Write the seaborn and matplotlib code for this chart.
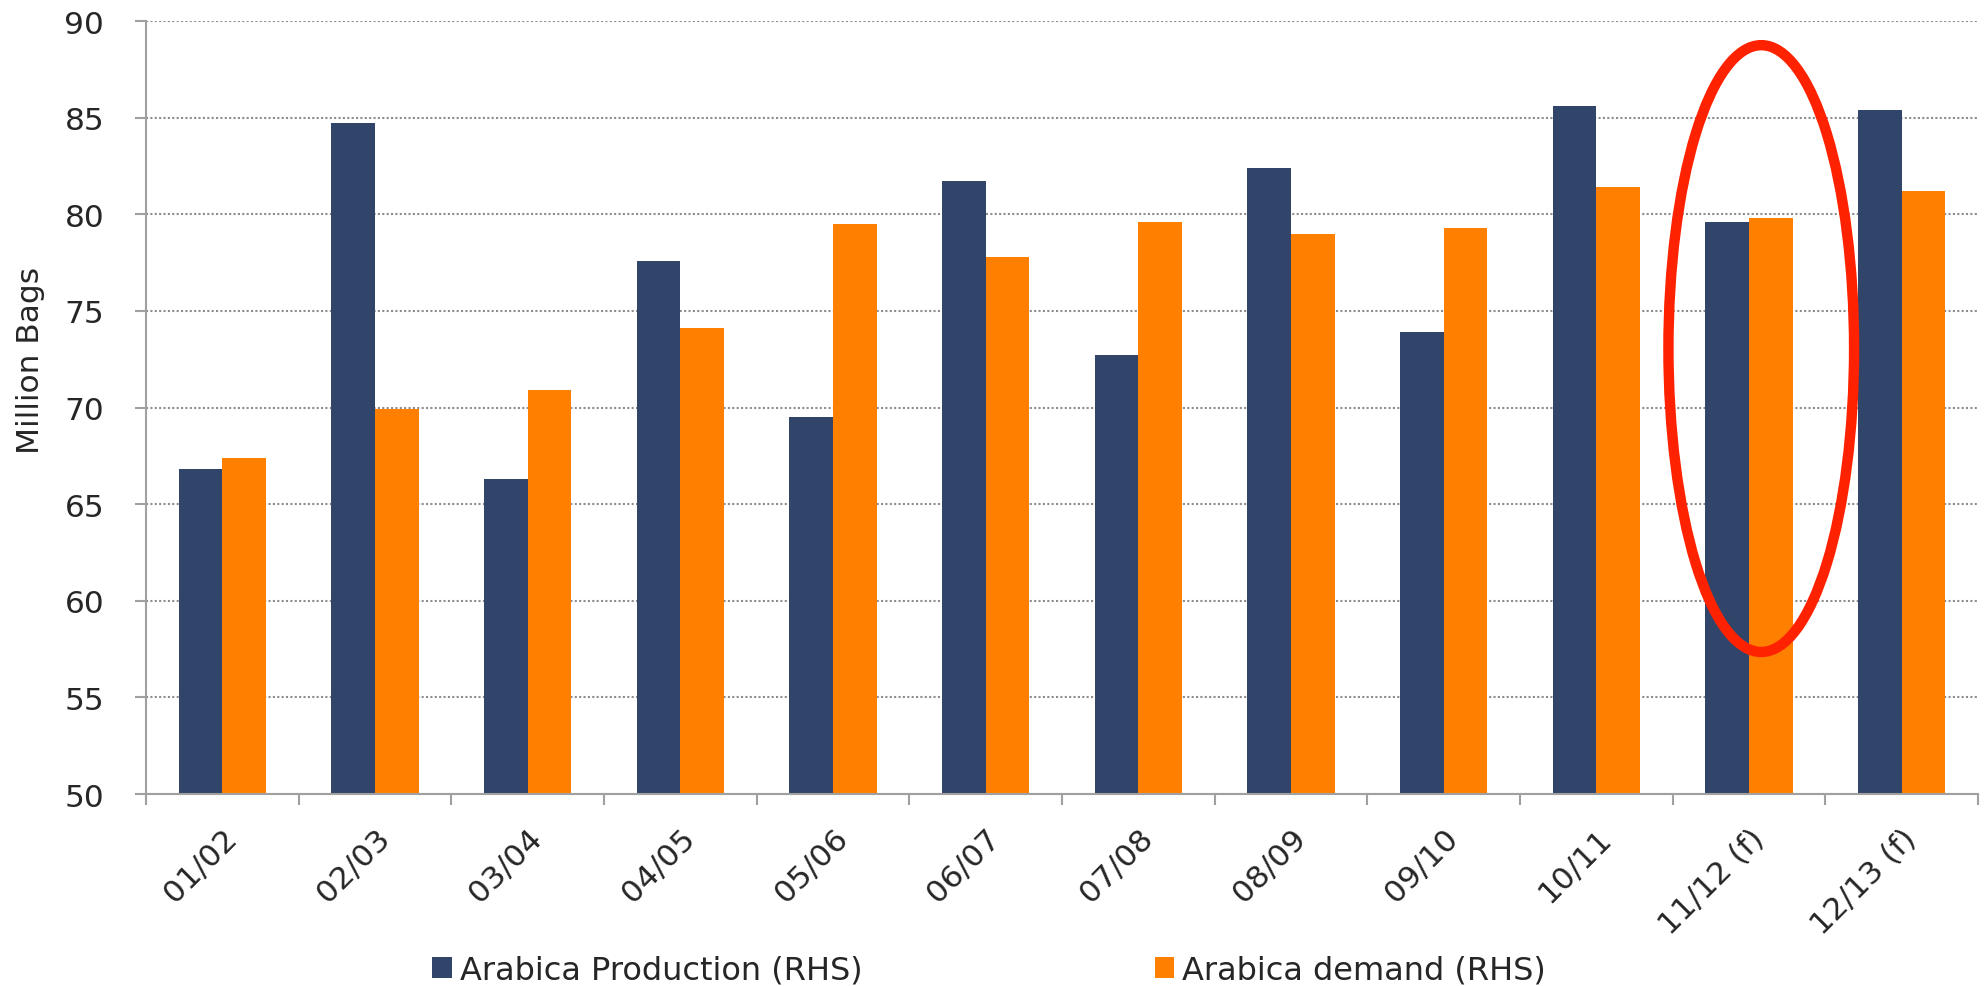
import pandas as pd
import seaborn as sns
import matplotlib.pyplot as plt
from matplotlib.patches import Ellipse
from matplotlib.ticker import FixedLocator

# Chart data
seasons = ['01/02', '02/03', '03/04', '04/05', '05/06', '06/07',
           '07/08', '08/09', '09/10', '10/11', '11/12 (f)', '12/13 (f)']
production = [66.8, 84.7, 66.3, 77.6, 69.5, 81.7, 72.7, 82.4, 73.9, 85.6, 79.6, 85.4]
demand = [67.4, 69.9, 70.9, 74.1, 79.5, 77.8, 79.6, 79.0, 79.3, 81.4, 79.8, 81.2]
series_names = ['Arabica Production (RHS)', 'Arabica demand (RHS)']
colors = ['#31456A', '#FF7F00']
yticks = [50, 55, 60, 65, 70, 75, 80, 85, 90]
highlight = '11/12 (f)'

df = pd.concat([
    pd.DataFrame({'Season': seasons, 'Series': series_names[0], 'Bags': production}),
    pd.DataFrame({'Season': seasons, 'Series': series_names[1], 'Bags': demand}),
])

sns.set_style('white')
plt.rcParams['font.family'] = ['DejaVu Sans']

fig, ax = plt.subplots(figsize=(19.86, 9.87), dpi=100)
fig.subplots_adjust(left=0.0735, right=0.996, top=0.9777, bottom=0.1945)

sns.barplot(data=df, x='Season', y='Bags', hue='Series', order=seasons,
            hue_order=series_names, palette=colors, width=0.573, gap=0,
            saturation=1, linewidth=0, ax=ax)

# Axes styling
grey = '#A0A0A0'
ax.set_xlim(-0.5, len(seasons) - 0.5)
ax.set_ylim(50, 90)
ax.set_yticks(yticks)
ax.tick_params(axis='y', labelsize=22.5, length=8, width=1.5, color=grey, pad=22, left=True)
ax.tick_params(axis='x', which='major', labelsize=22.5, length=0, pad=21)
ax.xaxis.set_minor_locator(FixedLocator([i - 0.5 for i in range(len(seasons) + 1)]))
ax.tick_params(axis='x', which='minor', length=8, width=1.5, color=grey, bottom=True)
plt.setp(ax.get_xticklabels(), rotation=45, ha='right', rotation_mode='anchor')
ax.grid(axis='y', linestyle=(0, (1, 1.1)), color='#8C8C8C', linewidth=1.5)
ax.set_axisbelow(True)
for side in ['top', 'right']:
    ax.spines[side].set_visible(False)
for side in ['left', 'bottom']:
    ax.spines[side].set_color(grey)
    ax.spines[side].set_linewidth(1.5)

ax.set_xlabel('')
ax.set_ylabel('Million Bags', fontsize=22.5)
ax.yaxis.set_label_coords(-0.0633, 0.5617)
ax.yaxis.label.set_va('center')

# Legend below the chart
handles, labels = ax.get_legend_handles_labels()
ax.get_legend().remove()
fig.legend(handles, labels, loc='center', bbox_to_anchor=(0.498, 0.016), ncol=2,
           frameon=False, fontsize=23, handlelength=0.6, handleheight=0.6,
           handletextpad=0.25, columnspacing=9.16, borderaxespad=0)

# Red ring around the 11/12 forecast
ax.add_patch(Ellipse((seasons.index(highlight) + 0.08, 73.05), width=1.216, height=31.4,
                     fill=False, edgecolor='#FF2200', linewidth=7.5, clip_on=False, zorder=5))

fig.savefig('out.png', dpi=100)
